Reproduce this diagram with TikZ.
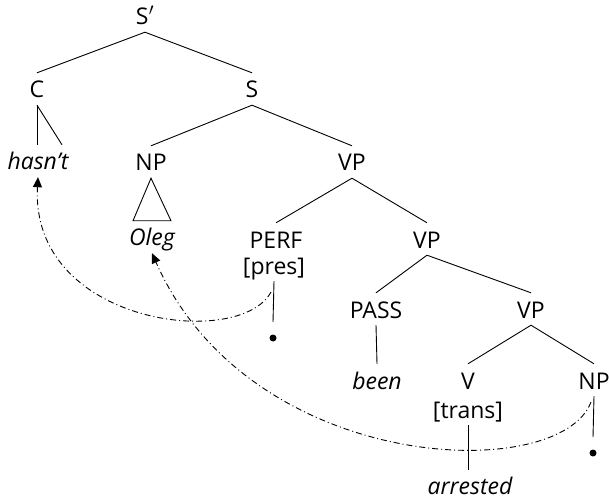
\documentclass[tikz,border=0pt]{standalone}
\usepackage{fontspec}
\setmainfont{Open Sans}
\usepackage{tikz}
\usetikzlibrary{arrows.meta, calc}
\newcommand{\treefont}{\fontsize{23}{27}\selectfont}
\tikzset{
	cat/.style   ={anchor=base, inner sep=0pt, text height=25pt, text depth=7pt, font=\treefont},
	word/.style  ={cat, font=\treefont\itshape},
	branch/.style={line width=0.9pt},
	trace/.style ={circle, fill=black, minimum size=7pt, inner sep=0pt},
	move/.style  ={line width=0.9pt, dash pattern=on 6pt off 3pt on 1pt off 3pt,
		-{Triangle[length=10pt, width=9pt]}},
}

\begin{document}
\begin{tikzpicture}[x=1pt, y=-1pt]
	\useasboundingbox (0,0) rectangle (609,502);
	% categories and words
	\node[cat]  (sbar)  at (145,25)  {S\kern0.5pt$'$};
	\node[cat]  (c)     at (37,98)   {C};
	\node[cat]  (s)     at (252,98)  {S};
	\node[word] (hasnt) at (38,170)  {hasn’t};
	\node[cat]  (np)    at (151,171) {NP};
	\node[cat]  (vp1)   at (352,171) {VP};
	\node[word] (oleg)  at (152,246) {Oleg};
	\node[cat]  (perf)  at (276,248) {PERF};
	\node[cat]  (pres)  at (274,274) {[pres]};
	\node[cat]  (vp2)   at (427,248) {VP};
	\node[cat]  (pass)  at (376,318) {PASS};
	\node[cat]  (vp3)   at (531,318) {VP};
	\node[word] (been)  at (377,389) {been};
	\node[cat]  (v)     at (468,389) {V};
	\node[cat]  (np2)   at (594,389) {NP};
	\node[cat]  (trans) at (468,418) {[trans]};
	\node[word, text depth=1pt] (arr) at (470,494) {arrested};
	\node[trace] (t1)   at (273,338) {};
	\node[trace] (t2)   at (593,453) {};
	% branches
	\draw[branch] (sbar.south) -- (c.north);
	\draw[branch] (sbar.south) -- (s.north);
	\draw[branch] (c.south) -- (hasnt.north -| c.south);
	\draw[branch] (c.south) -- ([xshift=24pt]hasnt.north);
	\draw[branch] (s.south) -- (np.north);
	\draw[branch] (s.south) -- (vp1.north);
	\draw[branch] (np.south) -- ([xshift=19pt]oleg.north) -- ([xshift=-19pt]oleg.north) -- cycle;
	\draw[branch] (vp1.south) -- (perf.north);
	\draw[branch] (vp1.south) -- (vp2.north);
	\draw[branch] (pres.south) -- ([yshift=16pt]t1.center);
	\draw[branch] (vp2.south) -- (pass.north);
	\draw[branch] (vp2.south) -- (vp3.north);
	\draw[branch] (pass.south) -- (been.north);
	\draw[branch] (vp3.south) -- (v.north);
	\draw[branch] (vp3.south) -- (np2.north);
	\draw[branch] (trans.south) -- ([yshift=-1pt]arr.north -| trans.south);
	\draw[branch] (np2.south) -- ([yshift=16pt]t2.center);
	% movement
	\coordinate (m1) at (271,292);
	\coordinate (m2) at (591,402);
	\draw[move] (m1) .. controls (240,350) and (30,325) .. (hasnt.south);
	\draw[move] (m2) .. controls (560,485) and (250,475) .. (oleg.south);
\end{tikzpicture}
\end{document}
